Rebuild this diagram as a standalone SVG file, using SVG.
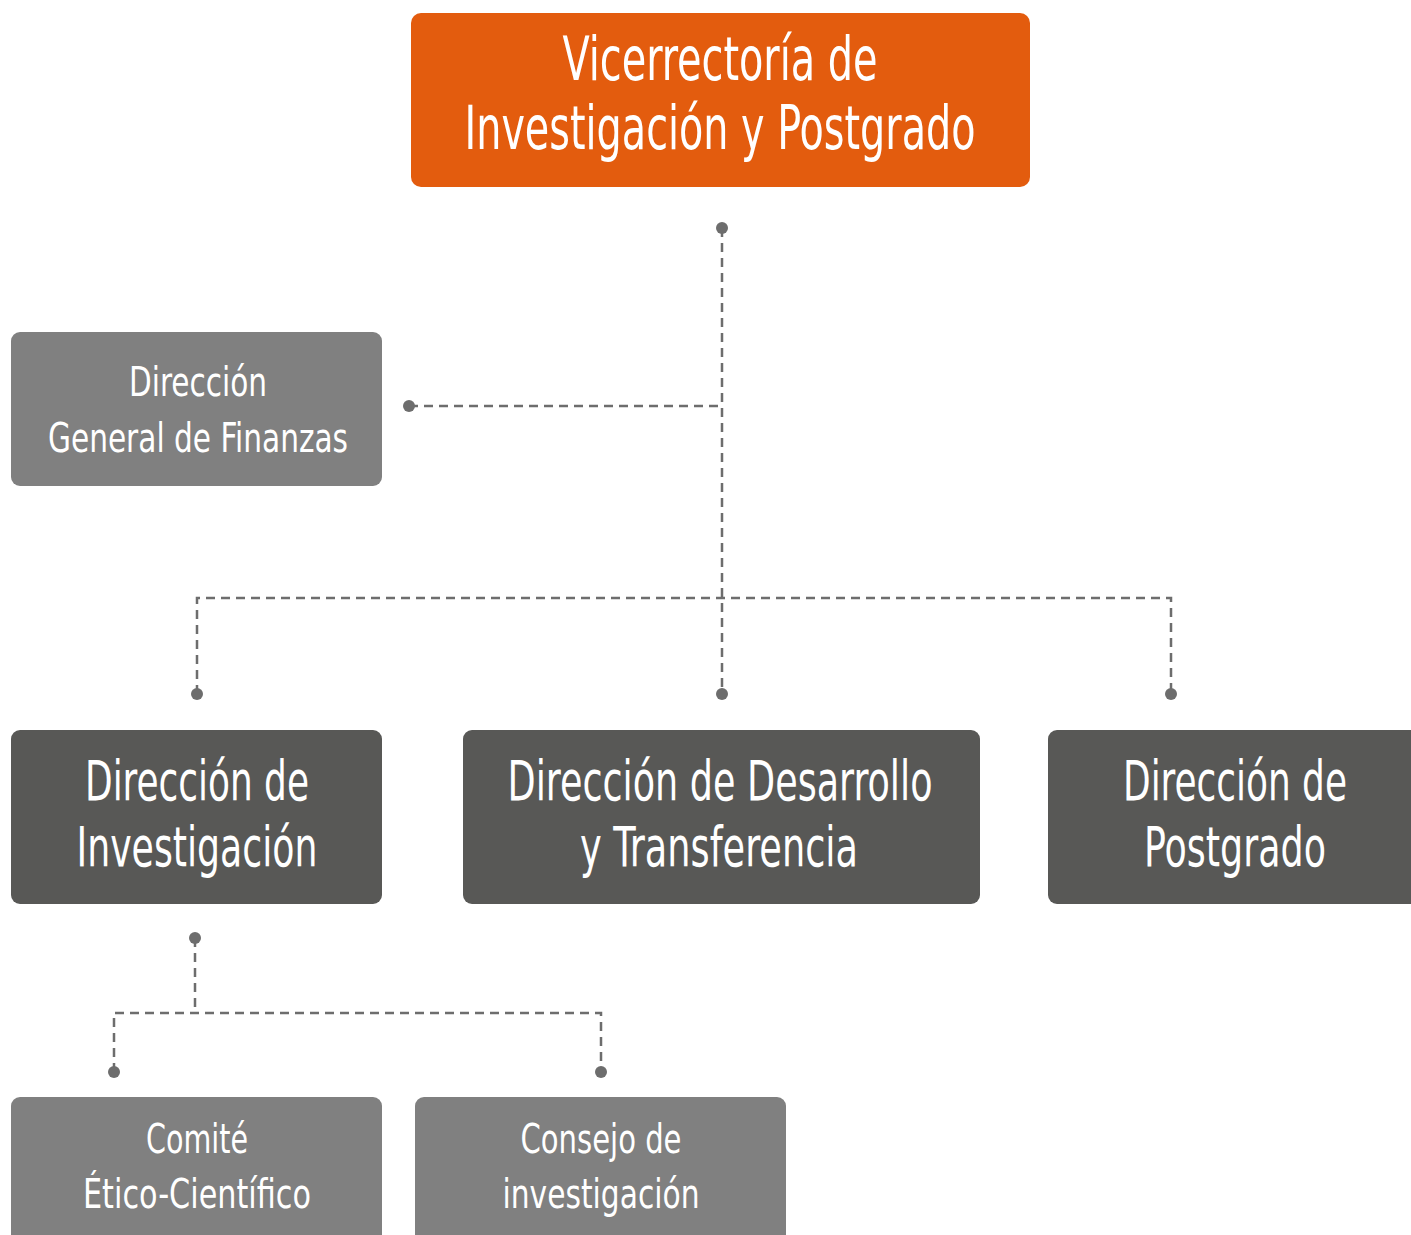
<svg xmlns="http://www.w3.org/2000/svg" width="1411" height="1235" viewBox="0 0 1411 1235">
<style>
.t{font-family:"DejaVu Sans Condensed","DejaVu Sans","Liberation Sans",sans-serif;fill:#ffffff;text-anchor:middle}
.l{fill:none;stroke:#6d6d6d;stroke-width:2.5;stroke-dasharray:9 6}
.d{fill:#6d6d6d}
.lt{fill:#808080}
.dk{fill:#585856}
</style>
<rect width="1411" height="1235" fill="#ffffff"/>
<g id="connectors">
<path class="l" d="M722 228 V694"/>
<path class="l" d="M409 406 H722"/>
<path class="l" d="M197 694 V598 H1171 V694"/>
<path class="l" d="M195 938 V1013"/>
<path class="l" d="M114 1072 V1013 H601 V1072"/>
<circle class="d" cx="722" cy="228" r="6"/>
<circle class="d" cx="409" cy="406" r="6"/>
<circle class="d" cx="197" cy="694" r="6"/>
<circle class="d" cx="722" cy="694" r="6"/>
<circle class="d" cx="1171" cy="694" r="6"/>
<circle class="d" cx="195" cy="938" r="6"/>
<circle class="d" cx="114" cy="1072" r="6"/>
<circle class="d" cx="601" cy="1072" r="6"/>
</g>
<g id="vicerrectoria">
<rect x="411" y="13" width="619" height="174" rx="10" fill="#E35C0E"/>
<text class="t" x="720" y="80" font-size="60" textLength="315" lengthAdjust="spacingAndGlyphs">Vicerrectoría de</text>
<text class="t" x="720" y="149" font-size="60" textLength="511" lengthAdjust="spacingAndGlyphs">Investigación y Postgrado</text>
</g>
<g id="finanzas">
<rect class="lt" x="11" y="332" width="371" height="154" rx="9"/>
<text class="t" x="198" y="396" font-size="41" textLength="138" lengthAdjust="spacingAndGlyphs">Dirección</text>
<text class="t" x="198" y="452" font-size="41" textLength="300" lengthAdjust="spacingAndGlyphs">General de Finanzas</text>
</g>
<g id="investigacion">
<rect class="dk" x="11" y="730" width="371" height="174" rx="9"/>
<text class="t" x="197" y="800" font-size="55" textLength="224" lengthAdjust="spacingAndGlyphs">Dirección de</text>
<text class="t" x="197" y="866" font-size="55" textLength="241" lengthAdjust="spacingAndGlyphs">Investigación</text>
</g>
<g id="desarrollo">
<rect class="dk" x="463" y="730" width="517" height="174" rx="9"/>
<text class="t" x="720" y="800" font-size="55" textLength="425" lengthAdjust="spacingAndGlyphs">Dirección de Desarrollo</text>
<text class="t" x="719" y="866" font-size="55" textLength="278" lengthAdjust="spacingAndGlyphs">y Transferencia</text>
</g>
<g id="postgrado">
<rect class="dk" x="1048" y="730" width="380" height="174" rx="9"/>
<text class="t" x="1235" y="800" font-size="55" textLength="224" lengthAdjust="spacingAndGlyphs">Dirección de</text>
<text class="t" x="1235" y="866" font-size="55" textLength="182" lengthAdjust="spacingAndGlyphs">Postgrado</text>
</g>
<g id="comite">
<rect class="lt" x="11" y="1097" width="371" height="160" rx="9"/>
<text class="t" x="197" y="1153" font-size="41" textLength="102" lengthAdjust="spacingAndGlyphs">Comité</text>
<text class="t" x="197" y="1208" font-size="41" textLength="228" lengthAdjust="spacingAndGlyphs">Ético-Científico</text>
</g>
<g id="consejo">
<rect class="lt" x="415" y="1097" width="371" height="160" rx="9"/>
<text class="t" x="601" y="1153" font-size="41" textLength="161" lengthAdjust="spacingAndGlyphs">Consejo de</text>
<text class="t" x="601" y="1208" font-size="41" textLength="197" lengthAdjust="spacingAndGlyphs">investigación</text>
</g>
</svg>
